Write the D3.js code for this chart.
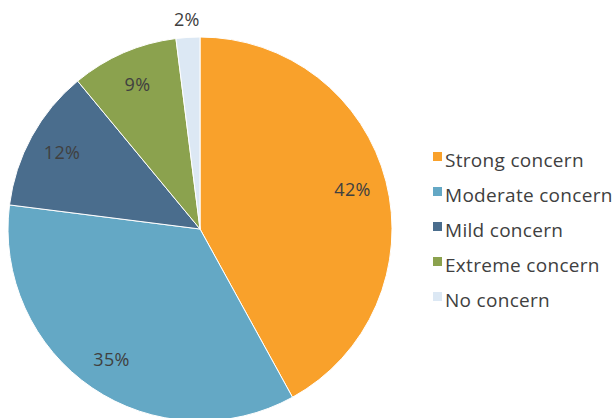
<!DOCTYPE html>
<html>
<head>
<meta charset="utf-8">
<script src="https://cdn.jsdelivr.net/npm/d3@7"></script>
<style>
  html, body { margin: 0; padding: 0; background: #fff; }
  svg { display: block; font-family: "Open Sans", "Lato", sans-serif; }
</style>
</head>
<body>
<svg id="chart" width="613" height="418"></svg>
<script>
const categories = ["Strong concern", "Moderate concern", "Mild concern", "Extreme concern", "No concern"];
const values = [42, 35, 12, 9, 2];
const colors = ["#F9A12B", "#64A8C5", "#4A6D8D", "#8BA24E", "#DCE8F4"];

const svg = d3.select("#chart");
const cx = 200, cy = 229, R = 192;

const pie = d3.pie().sort(null).value(d => d)(values);
const arc = d3.arc().innerRadius(0).outerRadius(R);
const color = d3.scaleOrdinal().domain(categories).range(colors);

const g = svg.append("g").attr("transform", `translate(${cx},${cy})`);

g.selectAll("path.slice")
  .data(pie)
  .join("path")
  .attr("class", "slice")
  .attr("d", arc)
  .attr("fill", (d, i) => color(categories[i]))
  .attr("stroke", "#fff")
  .attr("stroke-width", 1);

// percentage labels: inside for most slices, outside for the thin one
const inner = d3.arc().innerRadius(R * 0.82).outerRadius(R * 0.82);
const outer = d3.arc().innerRadius(R * 1.09).outerRadius(R * 1.09);
g.selectAll("text.pct")
  .data(pie)
  .join("text")
  .attr("class", "pct")
  .attr("transform", d => {
    const p = (d.data < 5 ? outer : inner).centroid(d);
    return `translate(${p[0]},${p[1]})`;
  })
  .attr("text-anchor", "middle")
  .attr("dy", "0.35em")
  .attr("font-size", 18)
  .attr("letter-spacing", 0.3)
  .attr("fill", "#404040")
  .text(d => d.data + "%");

// legend
const legend = svg.append("g").attr("transform", "translate(433,160)");
const rows = legend.selectAll("g")
  .data(categories)
  .join("g")
  .attr("transform", (d, i) => `translate(0,${i * 35})`);
rows.append("rect")
  .attr("x", 0).attr("y", -8)
  .attr("width", 9).attr("height", 9)
  .attr("fill", d => color(d));
rows.append("text")
  .attr("x", 12)
  .attr("y", 0)
  .attr("dy", "0.35em")
  .attr("font-size", 19)
  .attr("letter-spacing", 0.3)
  .attr("fill", "#404040")
  .text(d => d);
</script>
</body>
</html>
